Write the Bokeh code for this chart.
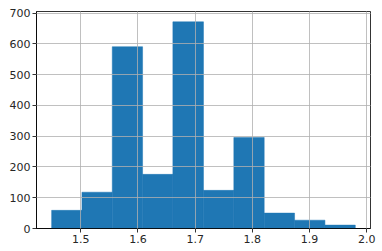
from bokeh.plotting import figure
from bokeh.embed import file_html
from bokeh.resources import INLINE
from bokeh.models import FixedTicker, Range1d, CustomJSTickFormatter

bin_edges = [1.449, 1.502, 1.555, 1.608, 1.661, 1.7145, 1.7676, 1.8207, 1.8738, 1.9269, 1.980]
counts = [59, 118, 591, 176, 672, 124, 296, 50, 27, 11]
x_ticks = [1.5, 1.6, 1.7, 1.8, 1.9, 2.0]
y_ticks = [0, 100, 200, 300, 400, 500, 600, 700]

p = figure(width=380, height=250, output_backend="svg", toolbar_location=None,
           x_range=Range1d(1.4225, 2.0066), y_range=Range1d(0, 705.6),
           min_border_left=36, min_border_right=10, min_border_top=11, min_border_bottom=22)

p.quad(left=bin_edges[:-1], right=bin_edges[1:], bottom=0, top=counts,
       fill_color="#1f77b4", line_color="#1f77b4", line_width=0.5)

p.outline_line_color = "black"
p.outline_line_width = 0.8
p.background_fill_color = "white"
p.border_fill_color = "white"

for ax, ticks in ((p.xaxis, x_ticks), (p.yaxis, y_ticks)):
    ax.ticker = FixedTicker(ticks=ticks)
    ax.minor_tick_line_color = None
    ax.major_tick_out = 4
    ax.major_tick_in = 0
    ax.axis_line_color = "black"
    ax.axis_line_width = 0.8
    ax.major_tick_line_width = 0.8
    ax.major_label_text_font = "DejaVu Sans"
    ax.major_label_text_font_size = "11px"
    ax.major_label_text_color = "#262626"
    ax.major_label_standoff = 2

p.xaxis.formatter = CustomJSTickFormatter(code="return tick.toFixed(1);")

p.grid.grid_line_color = "#b0b0b0"
p.grid.grid_line_width = 0.8
p.xgrid.ticker = FixedTicker(ticks=x_ticks)
p.ygrid.ticker = FixedTicker(ticks=y_ticks)
p.xgrid.level = "overlay"
p.ygrid.level = "overlay"

open("out.html", "w").write(file_html(p, INLINE))
